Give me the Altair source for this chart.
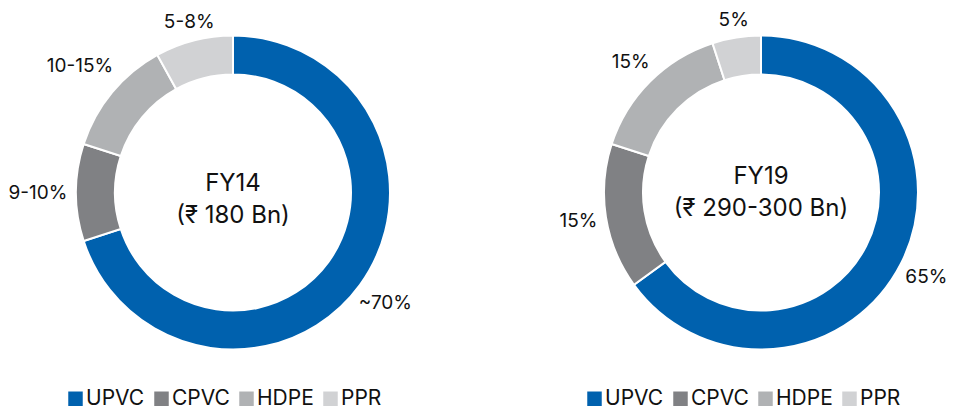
import altair as alt
import pandas as pd

# ---- data -------------------------------------------------------------
categories = ["UPVC", "CPVC", "HDPE", "PPR"]
colors = ["#0061AE", "#808184", "#B0B2B4", "#D1D2D4"]

fy14_share = [70, 10, 12, 8]
fy14_labels = ["~70%", "9-10%", "10-15%", "5-8%"]
fy14_title = "FY14\n(₹ 180 Bn)"

fy19_share = [65, 15, 15, 5]
fy19_labels = ["65%", "15%", "15%", "5%"]
fy19_title = "FY19\n(₹ 290-300 Bn)"

FONT = "Inter"
TXT = "#111111"
LABEL_SIZE = 19


def donut(shares, labels, title, width, height, base_r, push, legend_x, legend_y, title_y):
    df = pd.DataFrame({
        "segment": categories,
        "share": shares,
        "label": labels,
        "order": list(range(len(categories))),
    })
    color = alt.Color(
        "segment:N",
        scale=alt.Scale(domain=categories, range=colors),
        legend=alt.Legend(
            orient="none", legendX=legend_x, legendY=legend_y,
            direction="horizontal", title=None,
            symbolType="square", symbolSize=210, symbolStrokeWidth=0,
            symbolOpacity=1, labelFont=FONT, labelFontSize=21,
            labelColor=TXT, labelOffset=0, columnPadding=6,
        ),
    )
    arcs = alt.Chart(df).mark_arc(
        innerRadius=118, outerRadius=157, stroke="white", strokeWidth=2
    ).encode(
        theta=alt.Theta("share:Q", stack=True),
        order=alt.Order("order:Q"),
        color=color,
    )
    # label placement rule: mid-angle of each slice, pushed out by half the label box
    text = alt.Chart(df).transform_window(
        cum="sum(share)", sort=[alt.SortField("order", order="ascending")], frame=[None, 0]
    ).transform_joinaggregate(
        total="sum(share)"
    ).transform_calculate(
        mid="2*PI*(datum.cum - datum.share/2)/datum.total"
    ).transform_calculate(
        r=f"{base_r} + length(datum.label)*{LABEL_SIZE}*{push}*abs(sin(datum.mid)) + {LABEL_SIZE}*0.5*abs(cos(datum.mid))"
    ).mark_text(
        font=FONT, fontSize=LABEL_SIZE, color=TXT, align="center", baseline="middle"
    ).encode(
        theta=alt.Theta("mid:Q", scale=None),
        radius=alt.Radius("r:Q", scale=None),
        text="label:N",
    )
    center = alt.Chart(pd.DataFrame({"t": [title]})).mark_text(
        font=FONT, fontSize=24, lineBreak="\n", lineHeight=32,
        color=TXT, align="center", baseline="middle",
    ).encode(
        text="t:N", x=alt.value(width / 2), y=alt.value(title_y)
    )
    return alt.layer(arcs, text, center).properties(width=width, height=height)


left = donut(fy14_share, fy14_labels, fy14_title, 450, 369, 160, 0.37, 57, 380, 176)
right = donut(fy19_share, fy19_labels, fy19_title, 370, 369, 163, 0.36, 8, 380, 169)

chart = alt.hconcat(left, right, spacing=101).resolve_scale(
    color="independent"
).properties(
    padding={"left": 0, "top": 0, "right": 0, "bottom": 0}
).configure_view(stroke=None)

chart.save("out.html", embed_options={"renderer": "svg", "actions": False})
